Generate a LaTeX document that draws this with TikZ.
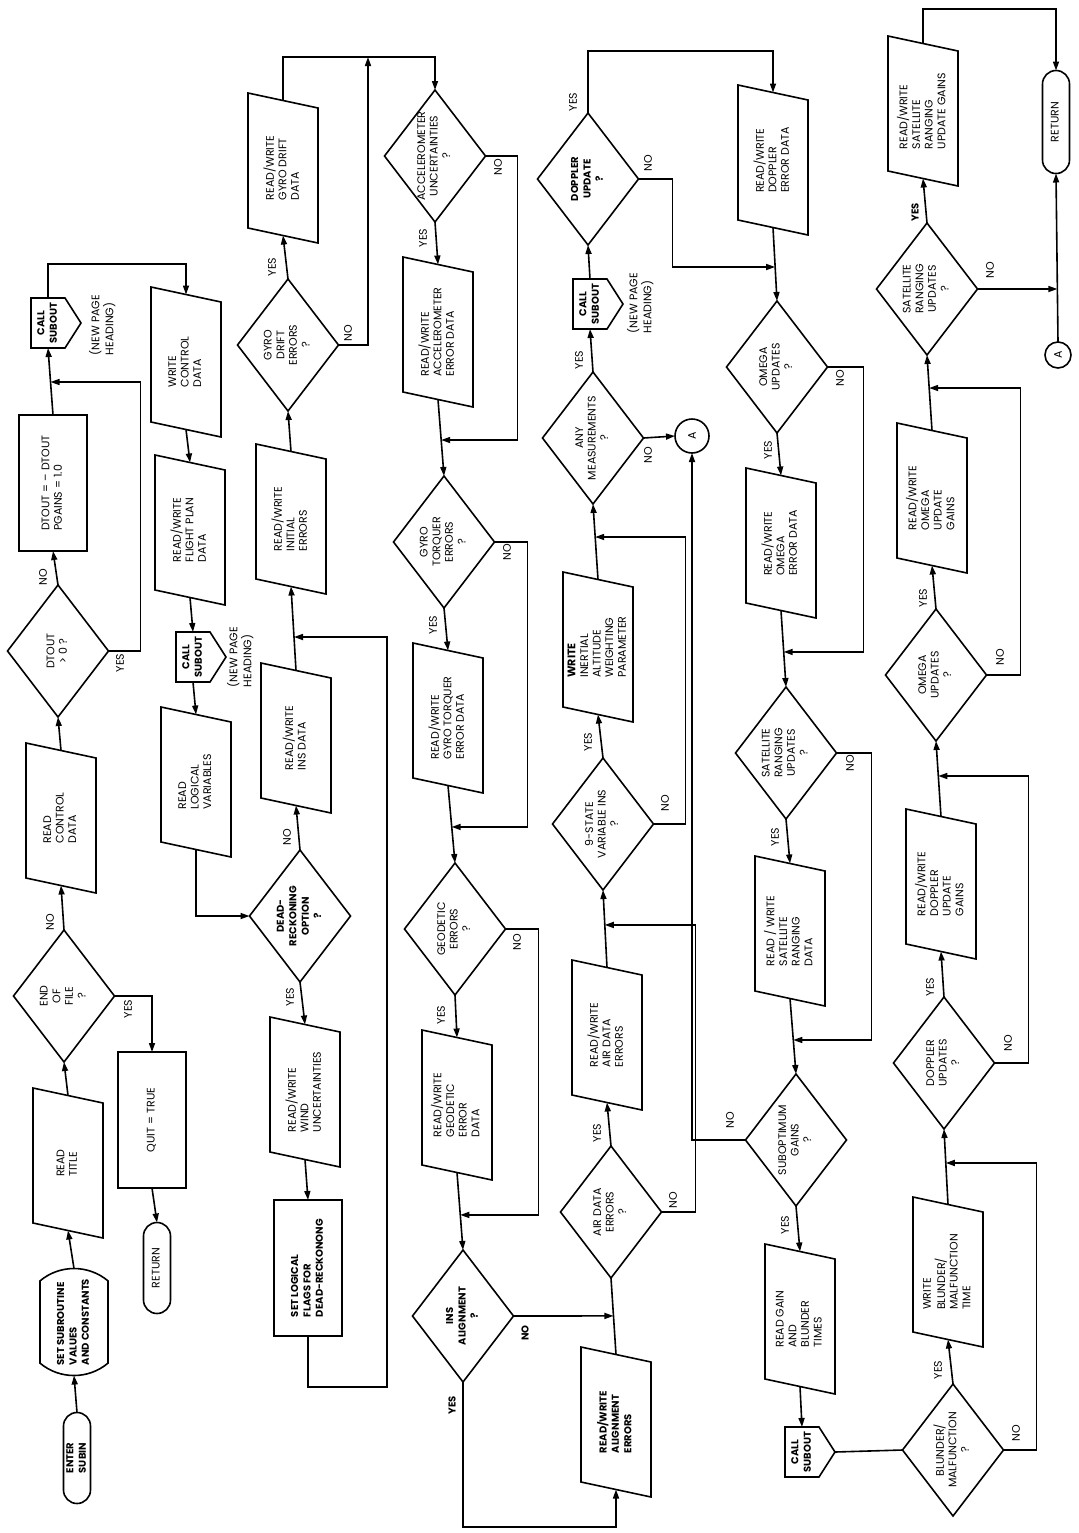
\documentclass[tikz,border=0pt]{standalone}
\usepackage{fontspec}
\setmainfont{Poppins}
\usetikzlibrary{shapes.geometric,shapes.misc,arrows.meta}
\newcommand{\tx}[2][c]{\smash{\raisebox{-1.3pt}{\makebox[0pt]{\begin{tabular}{@{}#1@{}}#2\end{tabular}}}}}
\newcommand{\callshape}[1]{\draw (#1.north east) -- (#1.south east) -- ([xshift=8pt]#1.south) -- (#1.south west) -- (#1.north west) -- cycle;}
\newcommand{\paraline}[1]{\draw ([yshift=3.75pt]#1.north east) -- ([yshift=-3.75pt]#1.south east) -- ([yshift=-3.75pt]#1.south west) -- ([yshift=3.75pt]#1.north west) -- cycle;}
\newcommand{\bsm}{\fontsize{5}{6.2}\selectfont\bfseries}
\begin{document}
\begin{tikzpicture}[x=0.5pt,y=-0.5pt,line width=0.8pt,
  base/.style={draw, rotate=90, inner sep=0pt, outer sep=0pt, font=\fontsize{5.5}{6.3}\selectfont},
  para/.style={base, draw=none, rectangle, minimum width=67.5pt, minimum height=35pt},
  dia/.style={base, diamond, minimum width=66pt, minimum height=50.5pt},
  procbox/.style={base, rectangle, minimum width=68pt, minimum height=34pt},
  term/.style={base, rounded rectangle, minimum width=45.5pt, minimum height=13.5pt},
  prep/.style={base, rounded rectangle, rounded rectangle arc length=80, minimum width=53.5pt, minimum height=34pt},
  callb/.style={base, draw=none, rectangle, minimum width=25pt, minimum height=17pt},
  conn/.style={base, circle},
  lab/.style={rotate=90, inner sep=0pt, font=\fontsize{5.5}{6.3}\selectfont},
  flow/.style={-{Triangle[length=4.5pt,width=3pt]}}]
\fill[white] (0,0) rectangle (1078,1533);
\useasboundingbox (0,0) rectangle (1078,1533);

% ---------- row 1
\node[term] (enter) at (77,1458) {\bsm\tx{ENTER\\SUBIN}};
\node[prep] (setsub) at (74,1322) {\bsm\tx[l]{SET SUBROUTINE\\VALUES\\AND CONSTANTS}};
\node[para] (rtitle) at (68,1163) {\tx[l]{READ\\TITLE}};
\node[dia] (eof) at (64,996) {\tx{END\\OF\\FILE\\?}};
\node[procbox] (quit) at (152,1120) {\tx{QUIT = TRUE}};
\node[term] (ret1) at (157,1268) {\tx{RETURN}};
\node[para] (rctl) at (61,818) {\tx[l]{READ\\CONTROL\\DATA}};
\node[dia] (dtout) at (58,651) {\tx{DTOUT\\> 0 ?}};
\node[procbox] (dtset) at (53,483) {\tx[l]{DTOUT = – DTOUT\\PGAINS = 1.0}};
\node[callb] (cs1) at (48,323) {\bsm\tx{CALL\\SUBOUT}};
\node[lab] (np1) at (103,325) {\tx[l]{(NEW PAGE\\HEADING)}};

% ---------- row 2
\node[para] (wctl) at (186,362) {\tx[l]{WRITE\\CONTROL\\DATA}};
\node[para] (rwfp) at (190,530) {\tx[l]{READ/WRITE\\FLIGHT PLAN\\DATA}};
\node[callb] (cs2) at (193,657) {\bsm\tx{CALL\\SUBOUT}};
\node[lab] (np2) at (241,657) {\tx[l]{(NEW PAGE\\HEADING)}};
\node[para] (rlv) at (196,782) {\tx[l]{READ\\LOGICAL\\VARIABLES}};
\node[dia] (drk) at (300,916) {\bsm\tx{DEAD-\\RECKONING\\OPTION\\?}};
\node[para] (rwwind) at (305,1092) {\tx[l]{READ/WRITE\\WIND\\UNCERTAINTIES}};
\node[procbox] (setlog) at (308,1268) {\bsm\tx[l]{SET LOGICAL\\FLAGS FOR\\DEAD-RECKONONG}};
\node[para] (rwins) at (296,738) {\tx[l]{READ/WRITE\\INS DATA}};
\node[para] (rwinit) at (291,519) {\tx[l]{READ/WRITE\\INITIAL\\ERRORS}};
\node[dia] (gde) at (288,345) {\tx{GYRO\\DRIFT\\ERRORS\\?}};
\node[para] (rwgd) at (283,168) {\tx[l]{READ/WRITE\\GYRO DRIFT\\DATA}};

% ---------- row 3
\node[dia] (acc) at (435,156) {\tx{ACCELEROMETER\\UNCERTAINTIES\\?}};
\node[para] (rwacc) at (438,332) {\tx[l]{READ/WRITE\\ACCELEROMETER\\ERROR DATA}};
\node[dia] (gte) at (444,542) {\tx{GYRO\\TORQUER\\ERRORS\\?}};
\node[para] (rwgt) at (448,718) {\tx[l]{READ/WRITE\\GYRO TORQUER\\ERROR DATA}};
\node[dia] (geo) at (455,929) {\tx{GEODETIC\\ERRORS\\?}};
\node[para] (rwgeo) at (457,1105) {\tx[l]{READ/WRITE\\GEODETIC\\ERROR\\DATA}};
\node[dia] (insa) at (463,1316) {\bsm\tx{INS\\ALIGNMENT\\?}};
\node[para] (rwal) at (616,1422) {\bsm\tx[l]{READ/WRITE\\ALIGNMENT\\ERRORS}};
\node[dia] (aird) at (611,1212) {\tx{AIR DATA\\ERRORS\\?}};
\node[para] (rwair) at (607,1035) {\tx[l]{READ/WRITE\\AIR DATA\\ERRORS}};
\node[dia] (nst) at (603,824) {\tx{9-STATE\\VARIABLE INS\\?}};
\node[para] (wiaw) at (598,647) {\tx[l]{\textbf{WRITE}\\INERTIAL\\ALTITUDE\\WEIGHTING\\PARAMETER}};
\node[dia] (anym) at (593,438) {\tx{ANY\\MEASUREMENTS\\?}};
\node[conn, minimum size=17pt] (cA1) at (692,436) {A};
\node[callb] (cs3) at (590,304) {\bsm\tx{CALL\\SUBOUT}};
\node[lab] (np3) at (641,303) {\tx[l]{(NEW PAGE\\HEADING)}};
\node[dia] (dopu) at (588,179) {\bsm\tx{DOPPLER\\UPDATE\\?}};

% ---------- row 4
\node[para] (rwde) at (773,160) {\tx[l]{READ/WRITE\\DOPPLER\\ERROR DATA}};
\node[dia] (omu1) at (777,367) {\tx{OMEGA\\UPDATES\\?}};
\node[para] (rwoe) at (781,543) {\tx[l]{READ/WRITE\\OMEGA\\ERROR DATA}};
\node[dia] (sru1) at (786,753) {\tx{SATELLITE\\RANGING\\UPDATES\\?}};
\node[para] (rwsr) at (790,931) {\tx[l]{READ / WRITE\\SATELLITE\\RANGING\\DATA}};
\node[dia] (subg) at (796,1140) {\tx{SUBOPTIMUM\\GAINS\\?}};
\node[para] (rgbt) at (800,1319) {\tx[l]{READ GAIN\\AND\\BLUNDER\\TIMES}};
\node[callb] (cs4) at (802,1452) {\bsm\tx{CALL\\SUBOUT}};

% ---------- row 5
\node[dia] (blm) at (953,1450) {\tx{BLUNDER/\\MALFUNCTION\\?}};
\node[para] (wbmt) at (948,1272) {\tx[l]{WRITE\\BLUNDER/\\MALFUNCTION\\TIME}};
\node[dia] (dpu) at (944,1063) {\tx{DOPPLER\\UPDATES\\?}};
\node[para] (rwdug) at (941,884) {\tx[l]{READ/WRITE\\DOPPLER\\UPDATE\\GAINS}};
\node[dia] (omu2) at (936,675) {\tx{OMEGA\\UPDATES\\?}};
\node[para] (rwoug) at (932,498) {\tx[l]{READ/WRITE\\OMEGA\\UPDATE\\GAINS}};
\node[dia] (sru2) at (927,289) {\tx{SATELLITE\\RANGING\\UPDATES\\?}};
\node[para] (rwsrug) at (923,111) {\tx[l]{READ/WRITE\\SATELLITE\\RANGING\\UPDATE GAINS}};
\node[term, minimum width=51.5pt] (ret2) at (1056,122) {\tx{RETURN}};
\node[conn, minimum size=13pt] (cA2) at (1058,355) {A};

% outlines of the input/output boxes and call boxes
\foreach \n in {rtitle,rctl,wctl,rwfp,rlv,rwwind,rwins,rwinit,rwgd,rwacc,rwgt,rwgeo,rwal,rwair,wiaw,rwde,rwoe,rwsr,rgbt,wbmt,rwdug,rwoug,rwsrug}{\paraline{\n}}
\foreach \n in {cs1,cs2,cs3,cs4}{\callshape{\n}}

% helper coordinates
\coordinate (t1) at (0,57);
\coordinate (t2) at (0,9);
\coordinate (t3) at (0,51);
\coordinate (t4) at (387,1387);
\coordinate (t6) at (0,1527);
\coordinate (m1) at (intersection of dtset.east--cs1.west and 0,382--1078,382);
\coordinate (m2) at (intersection of rwins.east--rwinit.west and 0,637--1078,637);
\coordinate (m3) at (368,57);
\coordinate (m4) at (intersection of rwacc.west--gte.east and 0,440--1078,440);
\coordinate (m5) at (intersection of rwgt.west--geo.east and 0,827--1078,827);
\coordinate (m6) at (intersection of rwgeo.west--insa.east and 0,1215--1078,1215);
\coordinate (m7) at (intersection of rwal.east--aird.west and 0,1316--1078,1316);
\coordinate (m8) at (intersection of rwair.east--nst.west and 0,925--1078,925);
\coordinate (m9) at (intersection of wiaw.east--anym.west and 0,537--1078,537);
\coordinate (m10) at (intersection of rwde.west--omu1.east and 0,267--1078,267);
\coordinate (m11) at (intersection of rwoe.west--sru1.east and 0,652--1078,652);
\coordinate (m12) at (intersection of rwsr.west--subg.east and 0,1040--1078,1040);
\coordinate (m13) at (intersection of wbmt.east--dpu.west and 0,1163--1078,1163);
\coordinate (m14) at (intersection of rwdug.east--omu2.west and 0,776--1078,776);
\coordinate (m15) at (intersection of rwoug.east--sru2.west and 0,388--1078,388);
\coordinate (m16) at (intersection of cA2.east--ret2.west and 0,289--1078,289);
\coordinate (cs4p) at ([xshift=8pt]cs4.south);

% ---------- connectors row 1
\draw[flow] (enter.east) -- (setsub.west);
\draw[flow] (setsub.east) -- (rtitle.west);
\draw[flow] (rtitle.east) -- (eof.west);
\draw[flow] (eof.east) -- (rctl.west);
\draw[flow] (eof.south) -| (quit.east);
\draw[flow] (quit.west) -- (ret1.east);
\draw[flow] (rctl.east) -- (dtout.west);
\draw[flow] (dtout.east) -- (dtset.west);
\draw[flow] (dtout.south) -- ++(32,0) |- (m1);
\draw[flow] (dtset.east) -- (cs1.west);
\draw[flow] (cs1.east) -- ++(0,-34) -| (wctl.east);
% row 2
\draw[flow] (wctl.west) -- (rwfp.east);
\draw[flow] (rwfp.west) -- (cs2.east);
\draw[flow] (cs2.west) -- (rlv.east);
\draw[flow] (rlv.west) |- (drk.north);
\draw[flow] (drk.east) -- (rwins.west);
\draw[flow] (drk.west) -- (rwwind.east);
\draw[flow] (rwwind.west) -- (setlog.east);
\draw[flow] (setlog.west) |- (t4) |- (m2);
\draw[flow] (rwins.east) -- (rwinit.west);
\draw[flow] (rwinit.east) -- (gde.west);
\draw[flow] (gde.east) -- (rwgd.west);
\draw[flow] (rwgd.east) -- (rwgd.east |- t1) -| (acc.east);
\draw[flow] (gde.south) -| (m3);
% row 3
\draw[flow] (acc.west) -- (rwacc.east);
\draw[flow] (acc.south) -- ++(32,0) |- (m4);
\draw[flow] (rwacc.west) -- (gte.east);
\draw[flow] (gte.west) -- (rwgt.east);
\draw[flow] (gte.south) -- ++(33,0) |- (m5);
\draw[flow] (rwgt.west) -- (geo.east);
\draw[flow] (geo.west) -- (rwgeo.east);
\draw[flow] (geo.south) -- ++(33,0) |- (m6);
\draw[flow] (rwgeo.west) -- (insa.east);
\draw[flow] (insa.west) -- (insa.west |- t6) -| (rwal.west);
\draw[flow] (insa.south) -- (m7);
\draw (rwal.east) -- (aird.west);
\draw[flow] (aird.east) -- (rwair.west);
\draw[flow] (aird.south) -- ++(34,0) |- (m8);
\draw[flow] (rwair.east) -- (nst.west);
\draw[flow] (nst.east) -- (wiaw.west);
\draw[flow] (nst.south) -- ++(32,0) |- (m9);
\draw[flow] (wiaw.east) -- (anym.west);
\draw[flow] (anym.south) -- (cA1.north);
\draw[flow] (anym.east) -- (cs3.west);
\draw[flow] (cs3.east) -- (dopu.west);
\draw[flow] (dopu.east) -- (dopu.east |- t3) -| (rwde.east);
\draw[flow] (dopu.south) -- ++(34,0) |- (m10);
% row 4
\draw[flow] (rwde.west) -- (omu1.east);
\draw[flow] (omu1.west) -- (rwoe.east);
\draw[flow] (omu1.south) -- ++(36,0) |- (m11);
\draw[flow] (rwoe.west) -- (sru1.east);
\draw[flow] (sru1.west) -- (rwsr.east);
\draw[flow] (sru1.south) -- ++(35,0) |- (m12);
\draw[flow] (rwsr.west) -- (subg.east);
\draw[flow] (subg.west) -- (rgbt.east);
\draw[flow] (subg.north) -| (cA1.west);
\draw[flow] (rgbt.west) -- (cs4.east);
\draw (cs4p) -- (blm.north);
% row 5
\draw[flow] (blm.east) -- (wbmt.west);
\draw[flow] (blm.south) -- ++(33,0) |- (m13);
\draw[flow] (wbmt.east) -- (dpu.west);
\draw[flow] (dpu.east) -- (rwdug.west);
\draw[flow] (dpu.south) -- ++(34,0) |- (m14);
\draw[flow] (rwdug.east) -- (omu2.west);
\draw[flow] (omu2.east) -- (rwoug.west);
\draw[flow] (omu2.south) -- ++(34,0) |- (m15);
\draw[flow] (rwoug.east) -- (sru2.west);
\draw[flow] (sru2.east) -- (rwsrug.west);
\draw[flow] (sru2.south) -- (m16);
\draw[flow] (rwsrug.east) -- (rwsrug.east |- t2) -| (ret2.east);
\draw[flow] (cA2.east) -- (ret2.west);

% ---------- YES / NO labels
\node[lab] (l1) at (50,922) {NO};
\node[lab] (l2) at (128,1009) {YES};
\node[lab] (l3) at (43,577) {NO};
\node[lab] (l4) at (120,663) {YES};
\node[lab] (l5) at (287,837) {NO};
\node[lab] (l6) at (290,997) {YES};
\node[lab] (l7) at (272,267) {YES};
\node[lab] (l8) at (348,333) {NO};
\node[lab] (l9) at (423,238) {YES};
\node[lab] (l10) at (498,167) {NO};
\node[lab] (l11) at (433,625) {YES};
\node[lab] (l12) at (507,552) {NO};
\node[lab] (l13) at (441,1015) {YES};
\node[lab] (l14) at (517,942) {NO};
\node[lab] (l15) at (452,1405) {\bsm YES};
\node[lab] (l16) at (525,1333) {\bsm NO};
\node[lab] (l17) at (597,1133) {YES};
\node[lab] (l18) at (673,1200) {NO};
\node[lab] (l19) at (588,742) {YES};
\node[lab] (l20) at (665,803) {NO};
\node[lab] (l21) at (579,360) {YES};
\node[lab] (l22) at (648,455) {NO};
\node[lab] (l23) at (573,102) {YES};
\node[lab] (l24) at (648,163) {NO};
\node[lab] (l25) at (768,450) {YES};
\node[lab] (l26) at (840,378) {NO};
\node[lab] (l27) at (775,837) {YES};
\node[lab] (l28) at (850,763) {NO};
\node[lab] (l29) at (785,1225) {YES};
\node[lab] (l30) at (730,1120) {NO};
\node[lab] (l31) at (938,1370) {YES};
\node[lab] (l32) at (1016,1433) {NO};
\node[lab] (l33) at (930,987) {YES};
\node[lab] (l34) at (1008,1043) {NO};
\node[lab] (l35) at (923,598) {YES};
\node[lab] (l36) at (1000,657) {NO};
\node[lab] (l37) at (915,212) {\bsm YES};
\node[lab] (l38) at (990,270) {NO};
\end{tikzpicture}
\end{document}
